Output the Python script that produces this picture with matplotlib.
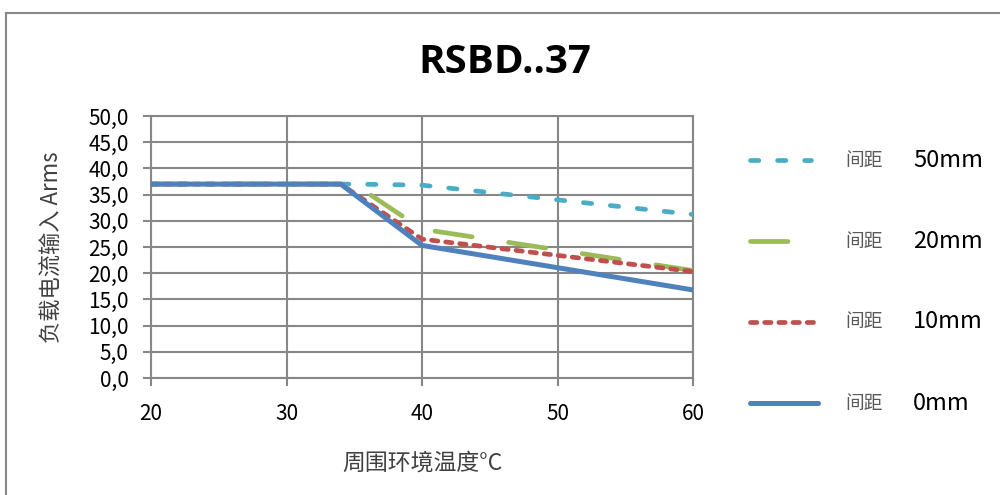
import numpy as np
import matplotlib.pyplot as plt
from matplotlib.lines import Line2D

plt.rcParams['font.family'] = ['Noto Sans CJK SC', 'DejaVu Sans']
plt.rcParams['lines.scale_dashes'] = False

# data
temp_50 = [20, 35, 40, 60]
amps_50 = [37.0, 37.0, 36.8, 31.2]
temp_20 = [20, 35, 40, 60]
amps_20 = [37.0, 37.0, 28.4, 20.5]
temp_10 = [20, 34, 40, 60]
amps_10 = [37.0, 37.0, 26.5, 20.3]
temp_0 = [20, 34, 40, 60]
amps_0 = [37.0, 37.0, 25.3, 16.8]

labels = ['50mm', '20mm', '10mm', '0mm']
colors = ['#4BACC6', '#9BBB59', '#C0504D', '#4F81BD']
dashes = [(6.0, 13.5), (27.0, 26.6), (4.6, 5.6), None]
xticks = [20, 30, 40, 50, 60]
yticks = np.arange(0, 55, 5)

fig = plt.figure(figsize=(10, 4.95), dpi=100)
ax = fig.add_axes([0.151, 0.2364, 0.542, 0.5293])

series = [(temp_50, amps_50), (temp_20, amps_20), (temp_10, amps_10), (temp_0, amps_0)]
lw = 3.4
for (x, y), c, d in zip(series, colors, dashes):
    line, = ax.plot(x, y, color=c, lw=lw if d else 3.6, solid_capstyle='round',
                    dash_capstyle='round', solid_joinstyle='round', zorder=3)
    if d:
        line.set_dashes(d)

ax.set_xlim(20, 60)
ax.set_ylim(0, 50)
ax.set_xticks(xticks)
ax.set_yticks(yticks)
ax.set_yticklabels([f'{v:.1f}'.replace('.', ',') for v in yticks])
ax.grid(True, color='#878787', lw=1.5)
for s in ax.spines.values():
    s.set_color('#878787')
    s.set_linewidth(1.5)
ax.tick_params(axis='both', colors='#878787', width=1.5, length=6, labelsize=15,
               labelcolor='black')
ax.tick_params(axis='x', pad=12)
ax.tick_params(axis='y', pad=10)
ax.set_ylabel('负载电流输入 Arms', fontsize=16, color='#404040', labelpad=18)
ax.set_xlabel('周围环境温度°C', fontsize=16.5, color='#404040', labelpad=19)

fig.text(0.505, 0.873, 'RSBD..37', ha='center', va='center', fontsize=29,
         fontweight='bold', family=['Open Sans', 'DejaVu Sans'])

# manual legend
leg_y = [160, 241, 322, 403]
handle_end = [0.813, 0.790, 0.820, 0.820]
for i, lab in enumerate(labels):
    yf = 1 - leg_y[i] / 495
    ln = Line2D([0.750, handle_end[i] - 0.002], [yf, yf], transform=fig.transFigure,
                color=colors[i], lw=lw if dashes[i] else 3.6, solid_capstyle='round',
                dash_capstyle='round')
    if dashes[i]:
        ln.set_dashes(dashes[i])
    fig.add_artist(ln)
    fig.text(0.845, yf, '间距', ha='left', va='center', fontsize=13.5, color='#595959')
    fig.text(0.913, yf, lab, ha='left', va='center', fontsize=17, color='black')

# outer frame (top and left edges visible)
fig.add_artist(Line2D([0.006, 1.0], [1 - 13 / 495, 1 - 13 / 495], transform=fig.transFigure,
                      color='#878787', lw=1.5))
fig.add_artist(Line2D([0.006, 0.006], [0, 1 - 13 / 495], transform=fig.transFigure,
                      color='#878787', lw=1.5))

fig.savefig('out.png', dpi=100)
